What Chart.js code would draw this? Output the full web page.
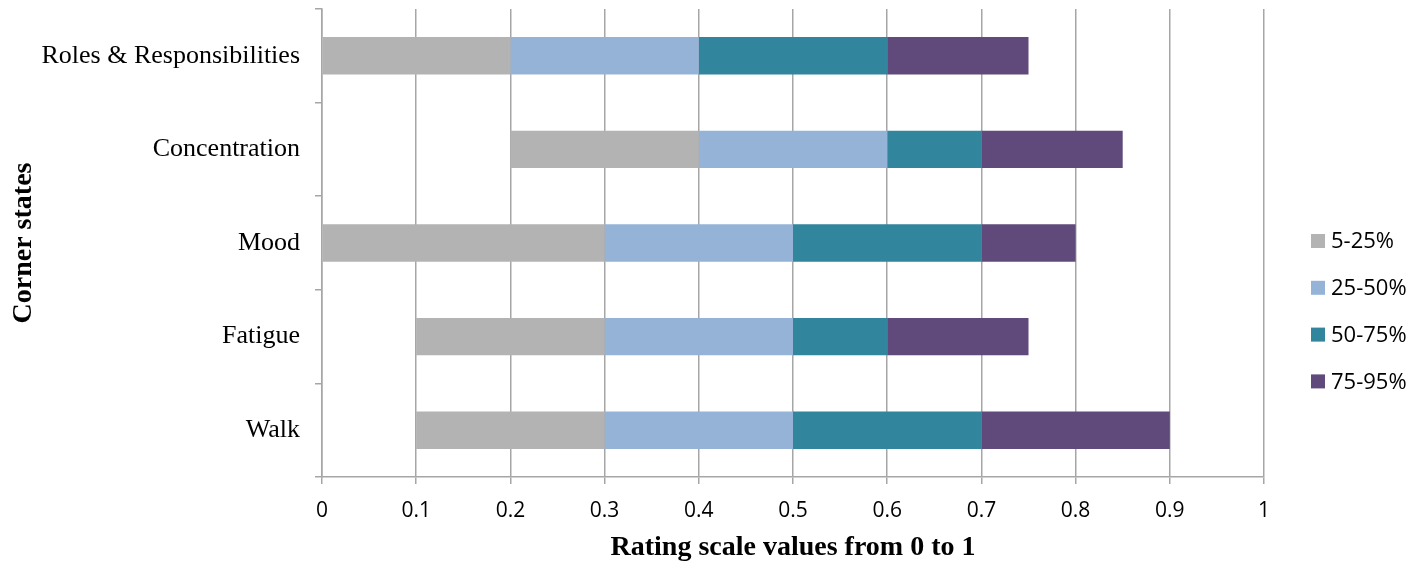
<!DOCTYPE html>
<html>
<head>
<meta charset="utf-8">
<script src="https://cdn.jsdelivr.net/npm/chart.js@4"></script>
<style>
  html, body { margin: 0; padding: 0; background: #ffffff; }
  #wrap { width: 1426px; height: 565px; position: relative; }
</style>
</head>
<body>
<div id="wrap"><canvas id="chart"></canvas></div>
<script>
// Corner states, top to bottom
const categories = ['Roles & Responsibilities', 'Concentration', 'Mood', 'Fatigue', 'Walk'];

// Percentile boundaries on the 0–1 rating scale for each state
const p5  = [0.0, 0.2, 0.0, 0.1, 0.1];
const p25 = [0.2, 0.4, 0.3, 0.3, 0.3];
const p50 = [0.4, 0.6, 0.5, 0.5, 0.5];
const p75 = [0.6, 0.7, 0.7, 0.6, 0.7];
const p95 = [0.75, 0.85, 0.8, 0.75, 0.9];

const seriesLabels = ['5-25%', '25-50%', '50-75%', '75-95%'];
const seriesColors = ['#b3b3b3', '#95b3d7', '#31859c', '#604a7b'];

const xTicks = [0, 0.1, 0.2, 0.3, 0.4, 0.5, 0.6, 0.7, 0.8, 0.9, 1];

const bounds = [p5, p25, p50, p75, p95];
const datasets = seriesLabels.map((label, s) => ({
  label,
  data: categories.map((_, i) => [bounds[s][i], bounds[s + 1][i]]),
  backgroundColor: seriesColors[s],
  borderWidth: 0,
  barPercentage: 0.4,
  categoryPercentage: 1.0,
  grouped: false
}));

const GRID = '#a6a6a6';
const SERIF = '"Liberation Serif", "Times New Roman", serif';
const SANS = '"Open Sans", "Liberation Sans", sans-serif';

// Legend drawn as a vertical list to the right of the plot
const sideLegend = {
  id: 'sideLegend',
  afterDraw(chart) {
    const ctx = chart.ctx;
    const x0 = 1311, y0 = 241, step = 46.8, box = 14;
    ctx.save();
    ctx.font = '22px ' + SANS;
    ctx.textBaseline = 'middle';
    ctx.textAlign = 'left';
    chart.data.datasets.forEach((ds, i) => {
      const cy = y0 + i * step;
      ctx.fillStyle = ds.backgroundColor;
      ctx.fillRect(x0, cy - box / 2, box, box);
      ctx.fillStyle = '#000000';
      ctx.fillText(ds.label, x0 + 20, cy + 1);
    });
    ctx.restore();
  }
};

new Chart(document.getElementById('chart'), {
  type: 'bar',
  data: { labels: categories, datasets },
  plugins: [sideLegend],
  options: {
    indexAxis: 'y',
    responsive: true,
    maintainAspectRatio: false,
    animation: false,
    layout: { padding: { top: 9, right: 162, left: 0, bottom: 0 } },
    plugins: {
      legend: { display: false },
      tooltip: { enabled: false }
    },
    scales: {
      x: {
        min: 0,
        max: 1,
        afterFit: s => { s.height = 88; },
        afterBuildTicks: s => { s.ticks = xTicks.map(v => ({ value: v })); },
        ticks: {
          color: '#000000',
          font: { family: SANS, size: 21 },
          padding: 14,
          callback: v => String(v)
        },
        grid: {
          color: GRID,
          lineWidth: 1.5,
          tickLength: 7,
          drawTicks: true
        },
        border: { color: GRID, width: 1.5 },
        title: {
          display: true,
          text: 'Rating scale values from 0 to 1',
          color: '#000000',
          font: { family: SERIF, size: 28, weight: 'bold' },
          padding: { top: 0, bottom: 0 }
        }
      },
      y: {
        afterFit: s => { s.width = 322; s.paddingTop = 0; s.paddingBottom = 0; },
        ticks: {
          color: '#000000',
          font: { family: SERIF, size: 26 },
          padding: 15
        },
        grid: {
          offset: true,
          drawOnChartArea: false,
          drawTicks: true,
          tickLength: 7,
          color: GRID,
          lineWidth: 1.5
        },
        border: { color: GRID, width: 1.5 },
        title: {
          display: true,
          text: 'Corner states',
          color: '#000000',
          font: { family: SERIF, size: 28, weight: 'bold' },
          padding: { top: 7, bottom: 0 }
        }
      }
    }
  }
});
</script>
</body>
</html>
